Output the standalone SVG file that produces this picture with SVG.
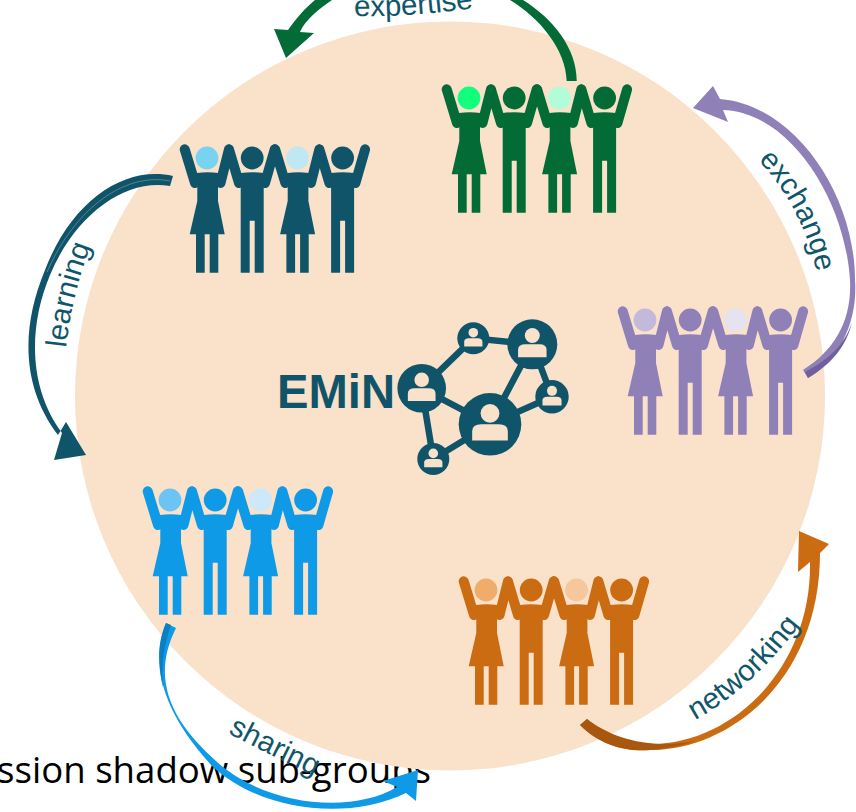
<svg xmlns="http://www.w3.org/2000/svg" xmlns:xlink="http://www.w3.org/1999/xlink" width="856" height="812" viewBox="0 0 856 812">
<style>
.lb{font-family:"Liberation Sans",Arial,sans-serif;font-size:29.5px;fill:#10566A}
.arm{fill:none;stroke:currentColor;stroke-width:10;stroke-linecap:round}
.fig{fill:currentColor}
.hl{fill:none;stroke:#fff;stroke-width:.6;opacity:.45}
.edge{stroke:#10546A;stroke-width:6.5;fill:none}
.nn{fill:#10546A}
.pp{fill:#F9E1CA}
</style>
<defs>
<g id="pair">
<path class="fig" d="M459,113 Q469.5,111.5 480.5,113 L485,127 H480 V141 L486.7,174.3 H480.3 V212.7 H471.7 V174.3 H466.7 V212.7 H458 V174.3 H451.7 L459.3,141 V127 H454 Z"/>
<path class="fig" d="M503,113 Q514,111.5 525.5,113 L530,127 H525.7 V212.7 H516.7 V160.7 H511.7 V212.7 H502.7 V127 H498 Z"/>
<path class="arm" d="M446.7,89.3 L457,123 M491,89.3 L482.5,123 M491,89.3 L501,123 M536.7,89.3 L527,123"/>
<circle class="fig" cx="514.2" cy="98" r="11.4"/>
</g>
<g id="people"><use href="#pair"/><use href="#pair" x="90.4"/></g>
<g id="pn"><circle class="pp" cy="-.35" r=".3"/><path class="pp" d="M-.57,.52 V.22 Q-.57,0 -.28,0 H.28 Q.57,0 .57,.22 V.52 Z"/></g>
</defs>
<text x="-3" y="783" font-family="'Open Sans',sans-serif" font-size="37" fill="#000" textLength="434" lengthAdjust="spacingAndGlyphs">ssion shadow sub-groups</text>
<ellipse id="background-circle" cx="450" cy="396" rx="375" ry="374.5" fill="#F9E1CA"/>
<g id="group-expertise" style="color:#036B36"><use href="#people"/><circle cx="469" cy="98" r="11.4" fill="#12FF7E"/><circle cx="559.5" cy="98" r="11.4" fill="#B0FDD8"/></g>
<g id="group-learning" transform="translate(-262,60)" style="color:#10546A"><use href="#people"/><circle cx="469" cy="98" r="11.4" fill="#78D3F0"/><circle cx="559.5" cy="98" r="11.4" fill="#BFE8F2"/></g>
<g id="group-exchange" transform="translate(176,222)" style="color:#8F80B8"><use href="#people"/><circle cx="469" cy="98" r="11.4" fill="#C3BADB"/><circle cx="559.5" cy="98" r="11.4" fill="#E6E3F0"/></g>
<g id="group-sharing" transform="translate(-299,402)" style="color:#0E9AE6"><use href="#people"/><circle cx="469" cy="98" r="11.4" fill="#6CC4F5"/><circle cx="559.5" cy="98" r="11.4" fill="#CDE8F9"/></g>
<g id="group-networking" transform="translate(17,492)" style="color:#CB6B12"><use href="#people"/><circle cx="469" cy="98" r="11.4" fill="#F0AC6B"/><circle cx="559.5" cy="98" r="11.4" fill="#F5C79A"/></g>
<g id="emin">
<text x="277" y="408" font-family="'Liberation Sans',Arial,sans-serif" font-weight="700" font-size="48" fill="#10546A" textLength="118" lengthAdjust="spacingAndGlyphs">EMiN</text>
<path class="edge" d="M421.7,388.3 L473.3,338.3 L532.3,344.3 L490,424.3 L421.7,388.3 L433.3,459 L490,424.3 L552,396.7 L532.3,344.3"/>
<circle class="nn" cx="490" cy="424.3" r="31.3"/>
<circle class="nn" cx="532.3" cy="344.3" r="25"/>
<circle class="nn" cx="421.7" cy="388.3" r="24.3"/>
<circle class="nn" cx="473.3" cy="338.3" r="16"/>
<circle class="nn" cx="552" cy="396.7" r="16.7"/>
<circle class="nn" cx="433.3" cy="459" r="16"/>
<use href="#pn" transform="translate(490,424.3) scale(31.3)"/>
<use href="#pn" transform="translate(532.3,344.3) scale(25)"/>
<use href="#pn" transform="translate(421.7,388.3) scale(24.3)"/>
<use href="#pn" transform="translate(473.3,338.3) scale(16)"/>
<use href="#pn" transform="translate(552,396.7) scale(16.7)"/>
<use href="#pn" transform="translate(433.3,459) scale(16)"/>
</g>
<g id="connectors">
<path fill="#036B36" d="M576.7,81 C577,50 555,20 523,0 C490,-20 370,-25 332,0 C320,8 305,20 300,32 L314,33 L286,58 L274,29 L288,30 C295,20 305,8 315,0 C360,-30 480,-20 510,0 C540,18 566,50 566.7,81 Z"/>
<path fill="#8F80B8" d="M808,378 C840,360 858,320 855,280 C855,195 795,105 720,99 L713,86 L693,108 L728,122 L723,110 C790,112 845,200 850,280 C852,320 835,350 803,370 Z"/>
<path fill="#6F5F9C" d="M808,378 C832,364 847,345 852,322 C845,345 828,360 805,372 Z"/>
<path fill="#CB6B12" d="M580,725 C600,745 625,752 650,750 C730,750 820,680 820,553 L829,544 L799,531 L798,572 L810,562 C812,670 730,745 650,744 C625,747 605,735 587,719 Z"/>
<path fill="#A9570E" d="M580,725 C600,745 625,752 650,750 C665,749 680,746 695,741 C670,746 625,748 587,719 Z"/>
<path fill="#0E9AE6" d="M166,623 C150,660 160,710 213,767 C260,810 345,822 406,793 L416,801 L418,770 L383,781 L397,787 C350,815 265,805 217,762 C172,722 150,680 176,628 Z"/>
<path fill="#0B7FBF" d="M166,623 C161,635 159,648 159.5,660 C160,672 161,678 163,688 C161,665 164,645 171,625 Z"/>
<path fill="#10546A" d="M173,176 C125,165 72,200 45,270 C22,325 20,385 58,435 L66,422 L86,455 L54,460 L62,433 C30,390 27,330 50,275 C75,215 125,178 170,186 Z"/>
<path class="hl" d="M170,181 C125,172 75,208 47,272"/>
</g>
<g id="labels">
<path id="p1" d="M354,16 Q415,17 474,8" fill="none"/>
<path id="p2" d="M758,160 Q800,205 815,265" fill="none"/>
<path id="p3" d="M695,720 Q750,690 800,625" fill="none"/>
<path id="p4" d="M228,733 Q270,755 318,778" fill="none"/>
<path id="p5" d="M66,348 Q72,295 90,248" fill="none"/>
<text class="lb"><textPath href="#p1">expertise</textPath></text>
<text class="lb"><textPath href="#p2">exchange</textPath></text>
<text class="lb"><textPath href="#p3">networking</textPath></text>
<text class="lb"><textPath href="#p4">sharing</textPath></text>
<text class="lb"><textPath href="#p5">learning</textPath></text>
</g>
</svg>
